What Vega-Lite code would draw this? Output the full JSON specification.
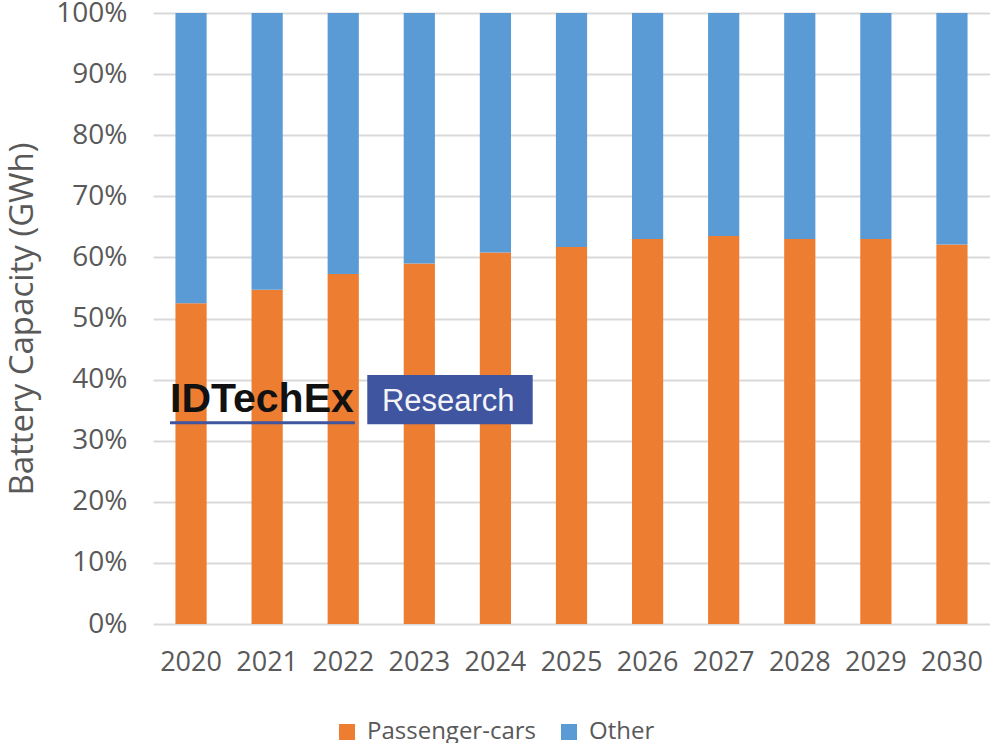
{
  "$schema": "https://vega.github.io/schema/vega-lite/v6.json",
  "width": 837,
  "height": 611,
  "autosize": {"type": "none"},
  "padding": {"left": 153, "top": 13, "right": 0, "bottom": 119},
  "background": "white",
  "config": {
    "view": {"stroke": null},
    "font": "Open Sans",
    "axis": {"labelFont": "Open Sans", "titleFont": "Open Sans", "labelColor": "#595959", "titleColor": "#595959"}
  },
  "datasets": {
    "shares": [
      {"year": "2020", "segment": "Passenger-cars", "share": 0.525},
      {"year": "2020", "segment": "Other", "share": 0.475},
      {"year": "2021", "segment": "Passenger-cars", "share": 0.547},
      {"year": "2021", "segment": "Other", "share": 0.453},
      {"year": "2022", "segment": "Passenger-cars", "share": 0.573},
      {"year": "2022", "segment": "Other", "share": 0.427},
      {"year": "2023", "segment": "Passenger-cars", "share": 0.590},
      {"year": "2023", "segment": "Other", "share": 0.410},
      {"year": "2024", "segment": "Passenger-cars", "share": 0.608},
      {"year": "2024", "segment": "Other", "share": 0.392},
      {"year": "2025", "segment": "Passenger-cars", "share": 0.617},
      {"year": "2025", "segment": "Other", "share": 0.383},
      {"year": "2026", "segment": "Passenger-cars", "share": 0.630},
      {"year": "2026", "segment": "Other", "share": 0.370},
      {"year": "2027", "segment": "Passenger-cars", "share": 0.635},
      {"year": "2027", "segment": "Other", "share": 0.365},
      {"year": "2028", "segment": "Passenger-cars", "share": 0.630},
      {"year": "2028", "segment": "Other", "share": 0.370},
      {"year": "2029", "segment": "Passenger-cars", "share": 0.630},
      {"year": "2029", "segment": "Other", "share": 0.370},
      {"year": "2030", "segment": "Passenger-cars", "share": 0.621},
      {"year": "2030", "segment": "Other", "share": 0.379}
    ],
    "logo": [{"name": "IDTechEx Research"}]
  },
  "layer": [
    {
      "data": {"name": "shares"},
      "mark": {"type": "bar"},
      "encoding": {
        "x": {
          "field": "year", "type": "nominal",
          "scale": {"paddingInner": 0.59, "paddingOuter": 0.295},
          "axis": {"title": null, "labelAngle": 0, "labelFontSize": 27, "labelPadding": 25, "ticks": false, "domain": false}
        },
        "y": {
          "field": "share", "type": "quantitative", "stack": "zero",
          "scale": {"domain": [0, 1], "nice": false},
          "axis": {
            "title": "Battery Capacity (GWh)", "titleFontSize": 33, "titleFontWeight": "normal", "titlePadding": 16,
            "format": ".0%", "values": [0, 0.1, 0.2, 0.3, 0.4, 0.5, 0.6, 0.7, 0.8, 0.9, 1],
            "labelFontSize": 28, "labelPadding": 26, "ticks": false, "domain": false,
            "grid": true, "gridColor": "#D9D9D9", "gridWidth": 2
          }
        },
        "color": {
          "field": "segment", "type": "nominal",
          "scale": {"domain": ["Passenger-cars", "Other"], "range": ["#ED7D31", "#5B9BD5"]},
          "legend": {
            "title": null, "orient": "none", "direction": "horizontal", "legendX": 182, "legendY": 707,
            "symbolType": "square", "symbolSize": 256, "symbolStrokeWidth": 0, "labelFont": "Open Sans", "labelFontSize": 24, "labelColor": "#595959",
            "labelOffset": 8, "columnPadding": 21, "padding": 0, "labelLimit": 0
          }
        },
        "order": {"field": "segment", "sort": "descending"}
      }
    },
    {
      "data": {"name": "logo"},
      "layer": [
        {
          "mark": {"type": "rect", "color": "#3F55A0"},
          "encoding": {
            "x": {"datum": 2.816, "type": "quantitative", "scale": {"domain": [0, 11], "nice": false, "zero": false}, "axis": null},
            "x2": {"datum": 4.99},
            "y": {"datum": 0.4075, "type": "quantitative"},
            "y2": {"datum": 0.3268}
          }
        },
        {
          "mark": {"type": "rule", "color": "#3F55A0", "strokeWidth": 3},
          "encoding": {
            "x": {"datum": 0.2234, "type": "quantitative"},
            "x2": {"datum": 2.654},
            "y": {"datum": 0.3295, "type": "quantitative"}
          }
        },
        {
          "mark": {"type": "text", "font": "Liberation Sans", "fontWeight": "bold", "fontSize": 41, "color": "#111111", "align": "left", "baseline": "alphabetic"},
          "encoding": {
            "x": {"datum": 0.2234, "type": "quantitative"},
            "y": {"datum": 0.3475, "type": "quantitative"},
            "text": {"value": "IDTechEx"}
          }
        },
        {
          "mark": {"type": "text", "font": "Liberation Sans", "fontSize": 31, "color": "#F4F4F8", "align": "center", "baseline": "alphabetic"},
          "encoding": {
            "x": {"datum": 3.88, "type": "quantitative"},
            "y": {"datum": 0.3486, "type": "quantitative"},
            "text": {"value": "Research"}
          }
        }
      ]
    }
  ],
  "resolve": {"scale": {"x": "independent"}}
}
